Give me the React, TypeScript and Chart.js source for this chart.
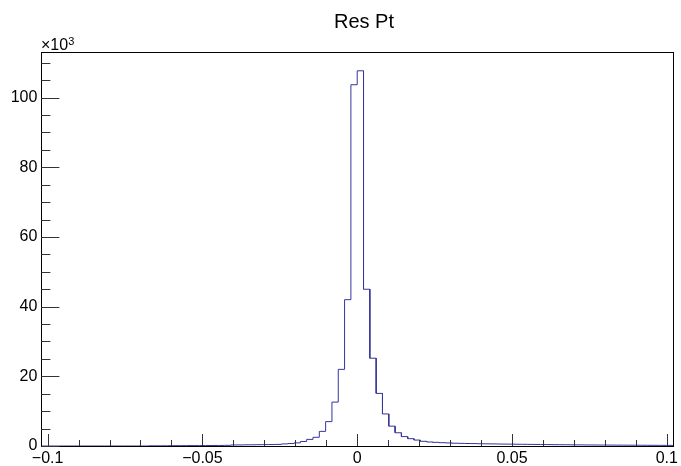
import React, { useEffect, useRef } from "react";
import { Chart, registerables } from "chart.js";

Chart.register(...registerables);

const chartTitle = "Res Pt";
const xMin = -0.102;
const xMax = 0.102;
const binCount = 100;
const yMaxK = 113.1;
const xTickLabels = [-0.1, -0.05, 0, 0.05, 0.1];
const yTickLabels = [0, 20, 40, 60, 80, 100];
const xMinorTicks = [-0.09, -0.08, -0.07, -0.06, -0.04, -0.03, -0.02, -0.01, 0.01, 0.02, 0.03, 0.04, 0.06, 0.07, 0.08, 0.09];
const yMinorTicks = [5, 10, 15, 25, 30, 35, 45, 50, 55, 65, 70, 75, 85, 90, 95, 105, 110];

// bin contents in units of 10^3
const binValues = [
  0, 0, 0, 0, 0, 0, 0, 0, 0, 0,
  0, 0, 0, 0, 0, 0, 0, 0.05, 0.05, 0.06,
  0.08, 0.1, 0.1, 0.12, 0.11, 0.13, 0.14, 0.15, 0.16, 0.19,
  0.3, 0.31, 0.34, 0.35, 0.38, 0.41, 0.42, 0.46, 0.6, 0.7,
  0.9, 1.3, 1.9, 2.5, 4.2, 7.0, 12.6, 22.0, 42.0, 103.7,
  107.7, 45.0, 25.2, 15.1, 9.2, 5.7, 3.8, 2.7, 2.1, 1.7,
  1.35, 1.15, 1.05, 0.95, 0.88, 0.8, 0.76, 0.72, 0.69, 0.65,
  0.62, 0.6, 0.57, 0.55, 0.53, 0.5, 0.48, 0.46, 0.44, 0.42,
  0.4, 0.38, 0.37, 0.35, 0.33, 0.32, 0.3, 0.29, 0.28, 0.27,
  0.26, 0.25, 0.24, 0.23, 0.22, 0.21, 0.2, 0.19, 0.18, 0.17,
];

const FONT = "'Liberation Sans', Arial, Helvetica, sans-serif";
const LINE_COLOR = "#35359a";

export default function App() {
  const ref = useRef<HTMLCanvasElement | null>(null);

  useEffect(() => {
    document.body.style.margin = "0";
    const canvas = ref.current;
    if (!canvas) return;

    const binWidth = (xMax - xMin) / binCount;
    const points: { x: number; y: number }[] = [];
    binValues.forEach((v, i) => {
      const lo = xMin + i * binWidth;
      const hi = xMin + (i + 1) * binWidth;
      points.push({ x: lo, y: v });
      points.push({ x: hi, y: v });
    });

    const rootPlugin = {
      id: "rootFrame",
      afterDraw(chart: any) {
        const ctx = chart.ctx as CanvasRenderingContext2D;
        const { left, right, top, bottom } = chart.chartArea;
        const xs = chart.scales.x;
        const ys = chart.scales.y;
        ctx.save();
        ctx.strokeStyle = "#000";
        ctx.lineWidth = 1;
        ctx.strokeRect(Math.round(left) + 0.5, Math.round(top) + 0.5, Math.round(right - left), Math.round(bottom - top));
        ctx.strokeStyle = "#333";
        ctx.beginPath();
        xTickLabels.forEach((v) => {
          const px = Math.round(xs.getPixelForValue(v)) + 0.5;
          ctx.moveTo(px, bottom);
          ctx.lineTo(px, bottom - 12);
        });
        xMinorTicks.forEach((v) => {
          const px = Math.round(xs.getPixelForValue(v)) + 0.5;
          ctx.moveTo(px, bottom);
          ctx.lineTo(px, bottom - 6);
        });
        yTickLabels.forEach((v) => {
          const py = Math.round(ys.getPixelForValue(v)) + 0.5;
          ctx.moveTo(left, py);
          ctx.lineTo(left + 18, py);
        });
        yMinorTicks.forEach((v) => {
          const py = Math.round(ys.getPixelForValue(v)) + 0.5;
          ctx.moveTo(left, py);
          ctx.lineTo(left + 9, py);
        });
        ctx.stroke();

        ctx.fillStyle = "#000";
        ctx.font = `20px ${FONT}`;
        ctx.textAlign = "center";
        ctx.textBaseline = "alphabetic";
        ctx.fillText(chartTitle, 364, 28);

        ctx.font = `16px ${FONT}`;
        ctx.textAlign = "left";
        ctx.fillText("\u00d710", 41, 50);
        const w = ctx.measureText("\u00d710").width;
        ctx.font = `11px ${FONT}`;
        ctx.fillText("3", 41 + w, 45);
        ctx.restore();
      },
    };

    const chart = new Chart(canvas, {
      type: "line",
      data: {
        datasets: [
          {
            data: points,
            borderColor: LINE_COLOR,
            borderWidth: 1,
            pointRadius: 0,
            fill: false,
            tension: 0,
          },
        ],
      },
      options: {
        animation: false,
        responsive: false,
        devicePixelRatio: 1,
        layout: { padding: { left: 0, top: 52, right: 5.6, bottom: 0 } },
        plugins: { legend: { display: false }, tooltip: { enabled: false }, title: { display: false } },
        scales: {
          x: {
            type: "linear",
            min: xMin,
            max: xMax,
            grid: { display: false, drawTicks: false },
            border: { display: false },
            afterBuildTicks: (scale: any) => {
              scale.ticks = xTickLabels.map((v) => ({ value: v }));
            },
            afterFit: (scale: any) => {
              scale.height = 20;
            },
            ticks: {
              autoSkip: false,
              maxRotation: 0,
              padding: 3,
              color: "#000",
              font: { family: FONT, size: 16 },
              callback: (v: any) => {
                const n = Number(v);
                if (n === 0) return "0";
                return (n < 0 ? "\u2212" : "") + String(Math.abs(n));
              },
            },
          },
          y: {
            type: "linear",
            min: 0,
            max: yMaxK,
            grid: { display: false, drawTicks: false },
            border: { display: false },
            afterBuildTicks: (scale: any) => {
              scale.ticks = yTickLabels.map((v) => ({ value: v }));
            },
            afterFit: (scale: any) => {
              scale.width = 41.4;
            },
            ticks: {
              autoSkip: false,
              padding: 4,
              color: "#000",
              font: { family: FONT, size: 16 },
              callback: (v: any) => String(v),
            },
          },
        },
      },
      plugins: [rootPlugin],
    });

    return () => chart.destroy();
  }, []);

  return <canvas ref={ref} width={681} height={466} style={{ display: "block", width: 681, height: 466 }} />;
}
